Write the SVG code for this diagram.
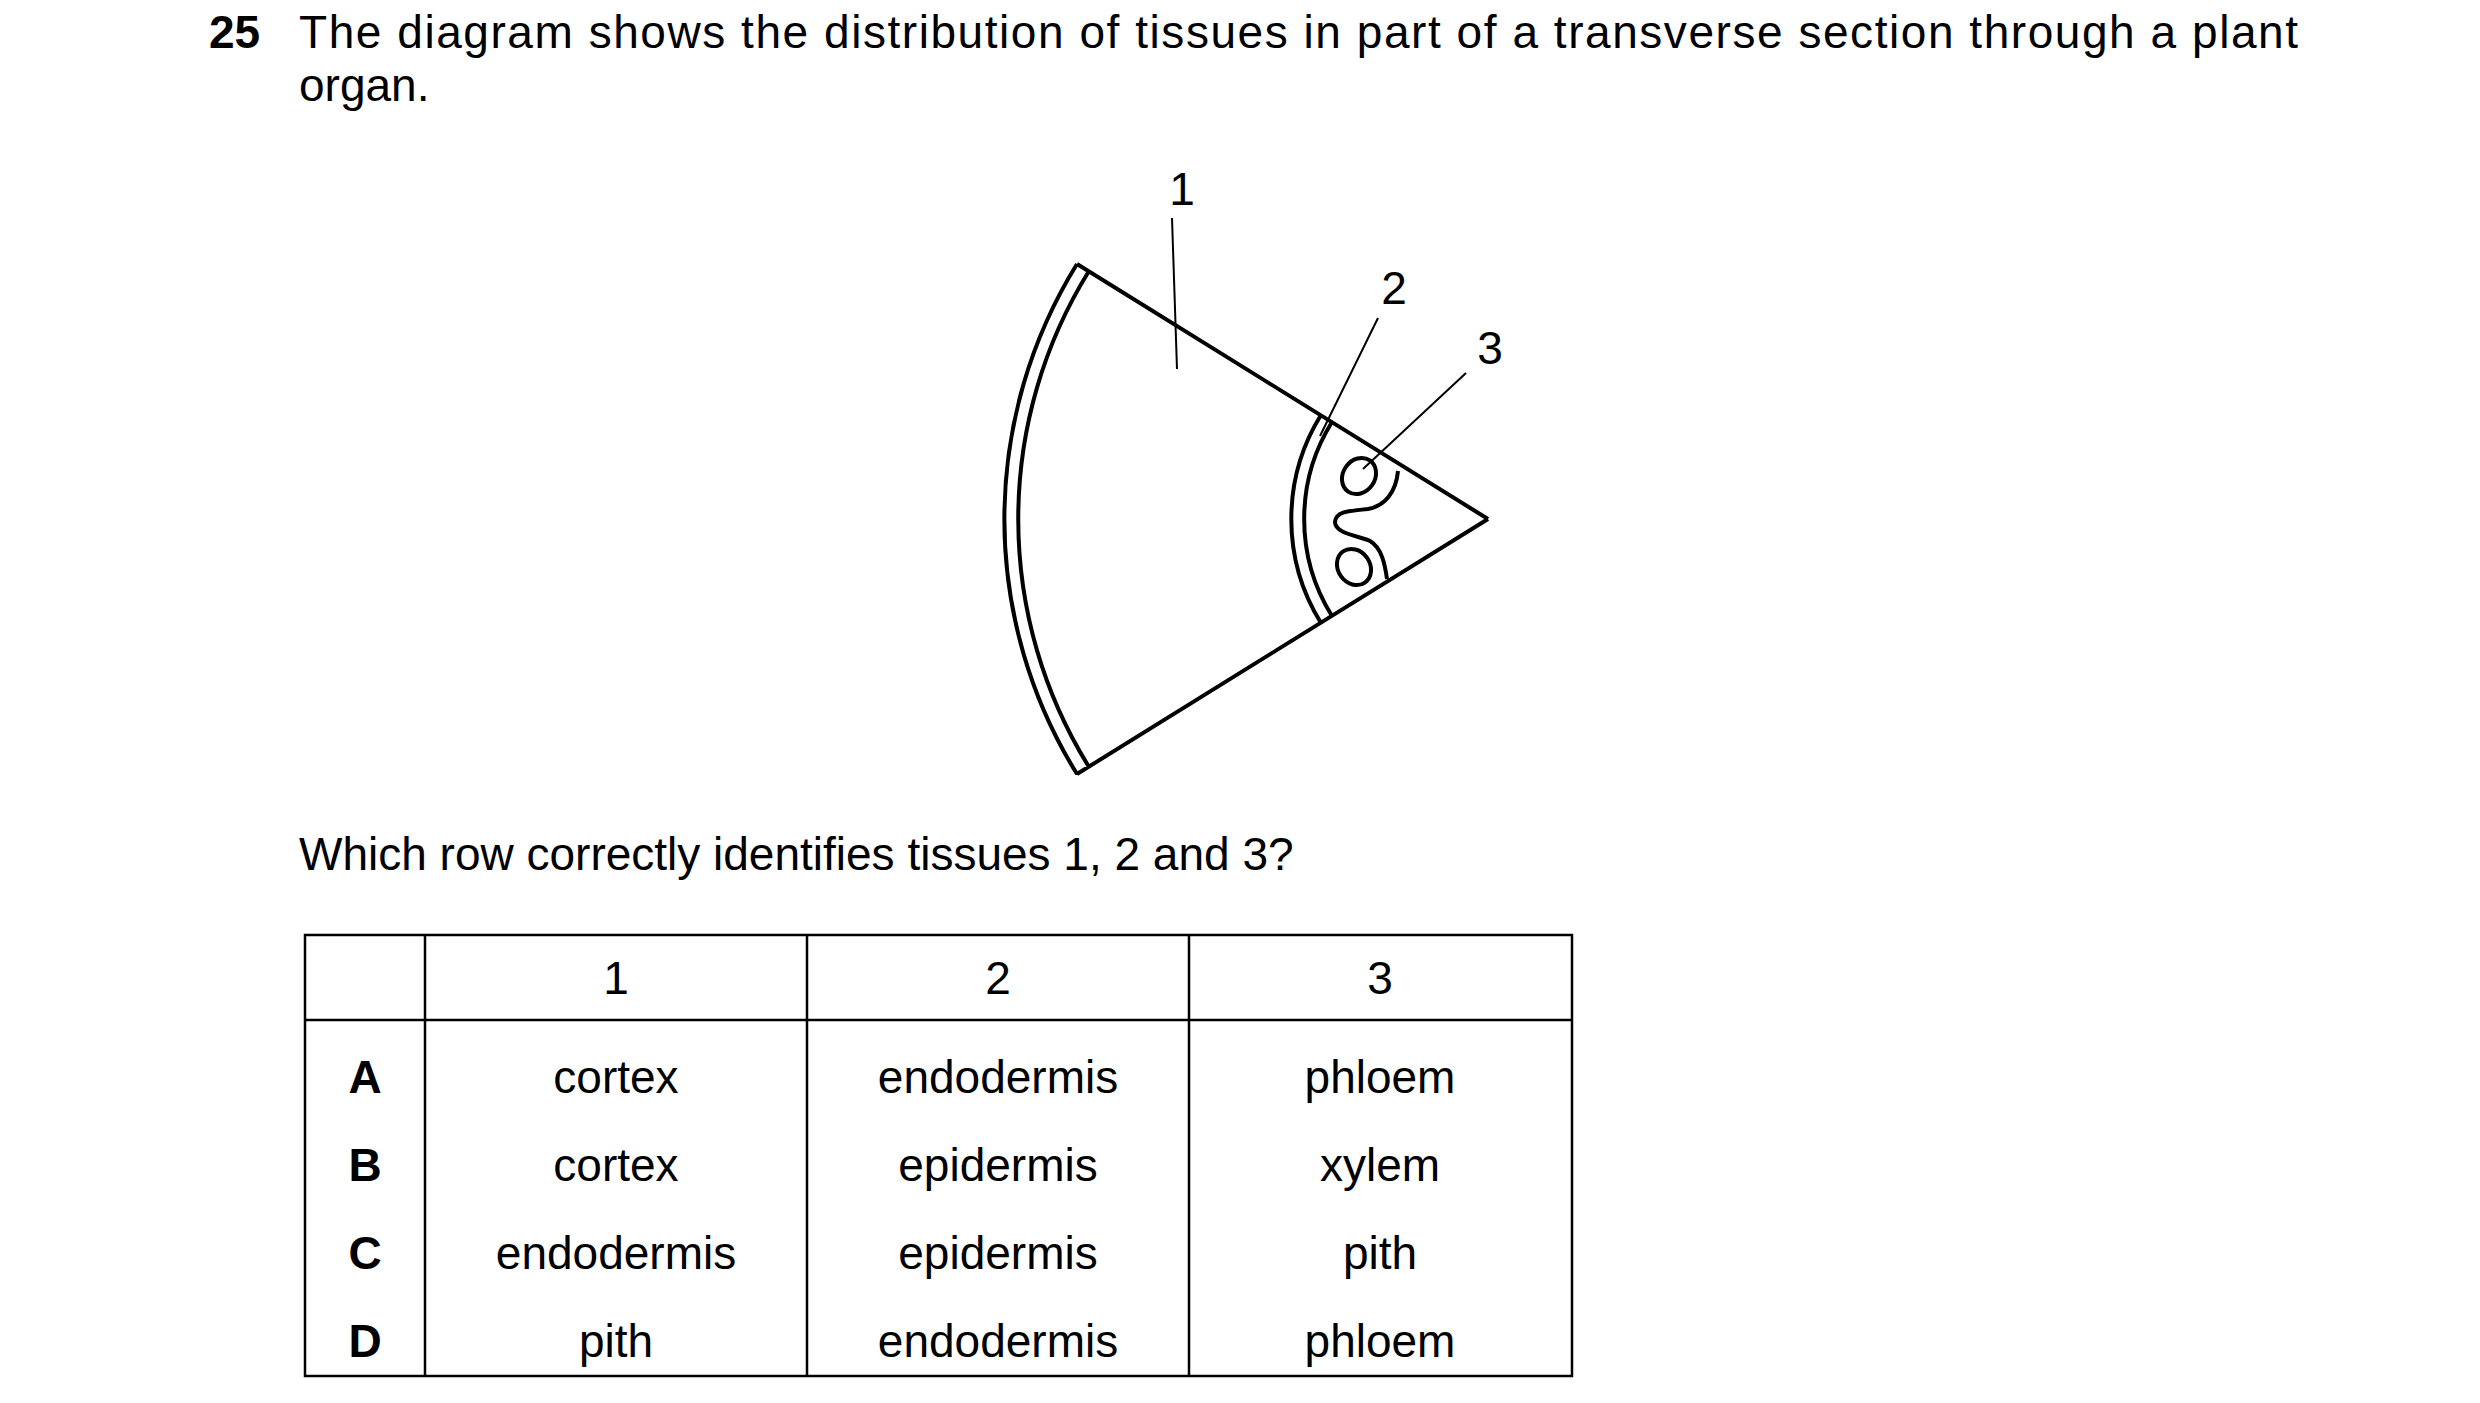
<svg xmlns="http://www.w3.org/2000/svg" width="2480" height="1403" viewBox="0 0 2480 1403">
<style>
text{font-family:"Liberation Sans",Arial,sans-serif;font-size:46px;fill:#000}
.b{font-weight:bold}
.c{text-anchor:middle}
.s{fill:none;stroke:#000;stroke-width:4}
.l{fill:none;stroke:#000;stroke-width:2}
</style>
<rect width="2480" height="1403" fill="#fff"/>
<text class="b" x="209" y="48">25</text>
<text x="299" y="48" textLength="1999" lengthAdjust="spacing">The diagram shows the distribution of tissues in part of a transverse section through a plant</text>
<text x="299" y="101">organ.</text>
<g id="section">
<path class="s" d="M1488,519 L1077,264 M1488,519 L1077,774 M1077,264 A484,484 0 0 0 1077,774 M1089,271 A470,470 0 0 0 1089,767"/>
</g>
<g id="endodermis">
<path class="s" d="M1321,415 A197,197 0 0 0 1321,623 M1332,422 A183,183 0 0 0 1332,616"/>
</g>
<g id="bundles">
<ellipse class="s" cx="1359" cy="476" rx="16" ry="19" transform="rotate(35 1359 476)"/>
<ellipse class="s" cx="1354" cy="567" rx="16" ry="19" transform="rotate(-35 1354 567)"/>
<path class="s" d="M1398,471 C1396,492 1385,506 1368,509 C1350,511 1336,511 1335,522 C1335,534 1360,536 1370,541 C1382,548 1385,565 1387,579"/>
</g>
<g id="labels">
<path class="l" d="M1172,218 L1177,369 M1378,318 L1320,436 M1466,373 L1363,469"/>
<text class="c" x="1182" y="205" font-size="42">1</text>
<text class="c" x="1394" y="304" font-size="42">2</text>
<text class="c" x="1490" y="364" font-size="42">3</text>
</g>
<text x="299" y="870">Which row correctly identifies tissues 1, 2 and 3?</text>
<g id="table">
<rect class="l" x="305" y="935" width="1267" height="441" style="stroke-width:2.5"/>
<path class="l" d="M305,1020 H1572 M425,935 V1376 M807,935 V1376 M1189,935 V1376" style="stroke-width:2.5"/>
<text class="c" x="616" y="994">1</text><text class="c" x="998" y="994">2</text><text class="c" x="1380" y="994">3</text>
<text class="c b" x="365" y="1093">A</text><text class="c" x="616" y="1093">cortex</text><text class="c" x="998" y="1093">endodermis</text><text class="c" x="1380" y="1093">phloem</text>
<text class="c b" x="365" y="1181">B</text><text class="c" x="616" y="1181">cortex</text><text class="c" x="998" y="1181">epidermis</text><text class="c" x="1380" y="1181">xylem</text>
<text class="c b" x="365" y="1269">C</text><text class="c" x="616" y="1269">endodermis</text><text class="c" x="998" y="1269">epidermis</text><text class="c" x="1380" y="1269">pith</text>
<text class="c b" x="365" y="1357">D</text><text class="c" x="616" y="1357">pith</text><text class="c" x="998" y="1357">endodermis</text><text class="c" x="1380" y="1357">phloem</text>
</g>
</svg>
